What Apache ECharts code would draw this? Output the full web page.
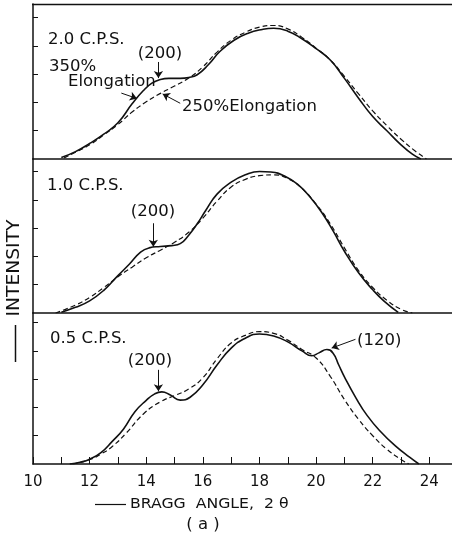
<!DOCTYPE html>
<html>
<head>
<meta charset="utf-8">
<script src="https://cdn.jsdelivr.net/npm/echarts@6/dist/echarts.min.js"></script>
<style>
  html, body { margin: 0; padding: 0; background: #fff; }
  #chart { width: 452px; height: 540px; }
</style>
</head>
<body>
<div id="chart"></div>
<script>
// 2.0 C.P.S. panel
const p1SolidX = [11.0, 11.5, 12.0, 12.5, 13.0, 13.5, 13.9, 14.2, 14.5, 14.8, 15.2, 15.5, 15.8, 16.2, 16.6, 17.1, 17.6, 18.1, 18.5, 19.0, 19.5, 20.0, 20.5, 21.0, 21.5, 22.0, 22.5, 23.0, 23.4, 23.7];
const p1SolidY = [0.05, 0.26, 0.55, 0.88, 1.28, 1.95, 2.42, 2.68, 2.81, 2.85, 2.85, 2.88, 2.98, 3.34, 3.8, 4.2, 4.45, 4.58, 4.62, 4.52, 4.25, 3.9, 3.5, 2.85, 2.15, 1.5, 1.0, 0.5, 0.17, 0.0];
const p1DashX = [11.1, 11.5, 12.0, 12.5, 13.0, 13.5, 14.0, 14.5, 15.0, 15.5, 16.0, 16.5, 17.0, 17.5, 18.0, 18.5, 19.0, 19.5, 20.0, 20.5, 21.0, 21.5, 22.0, 22.5, 23.0, 23.5, 23.9];
const p1DashY = [0.04, 0.24, 0.5, 0.85, 1.22, 1.66, 2.02, 2.32, 2.58, 2.86, 3.26, 3.78, 4.2, 4.48, 4.66, 4.72, 4.6, 4.3, 3.92, 3.5, 2.92, 2.3, 1.7, 1.18, 0.7, 0.28, 0.0];

// 1.0 C.P.S. panel
const p2SolidX = [11.0, 11.5, 12.0, 12.5, 13.0, 13.4, 13.8, 14.1, 14.5, 14.9, 15.2, 15.5, 15.8, 16.1, 16.5, 17.0, 17.5, 18.0, 18.4, 18.9, 19.4, 19.8, 20.2, 20.6, 21.0, 21.5, 22.0, 22.4, 22.9];
const p2SolidY = [0.03, 0.2, 0.43, 0.8, 1.32, 1.72, 2.15, 2.3, 2.35, 2.38, 2.45, 2.75, 3.15, 3.62, 4.2, 4.62, 4.88, 5.0, 4.98, 4.83, 4.5, 4.08, 3.55, 2.9, 2.18, 1.42, 0.82, 0.42, 0.02];
const p2DashX = [10.8, 11.5, 12.0, 12.5, 13.0, 13.5, 14.0, 14.5, 15.0, 15.5, 16.0, 16.5, 17.0, 17.5, 18.0, 18.5, 19.0, 19.5, 20.0, 20.5, 21.0, 21.5, 22.0, 22.5, 23.0, 23.4];
const p2DashY = [0.0, 0.28, 0.55, 0.9, 1.28, 1.62, 1.95, 2.22, 2.5, 2.85, 3.35, 3.95, 4.45, 4.72, 4.85, 4.88, 4.75, 4.4, 3.85, 3.15, 2.3, 1.5, 0.9, 0.45, 0.13, 0.0];

// 0.5 C.P.S. panel
const p3SolidX = [11.3, 11.7, 12.0, 12.4, 12.8, 13.2, 13.6, 14.0, 14.3, 14.55, 14.85, 15.2, 15.55, 16.0, 16.5, 17.0, 17.5, 18.0, 18.5, 19.0, 19.5, 19.85, 20.1, 20.38, 20.6, 20.8, 21.0, 21.4, 21.8, 22.3, 22.8, 23.3, 23.63];
const p3SolidY = [0.0, 0.07, 0.17, 0.4, 0.8, 1.24, 1.85, 2.25, 2.48, 2.55, 2.44, 2.26, 2.36, 2.8, 3.5, 4.1, 4.45, 4.6, 4.53, 4.32, 4.0, 3.83, 3.93, 4.05, 3.92, 3.5, 3.08, 2.35, 1.72, 1.12, 0.64, 0.24, 0.0];
const p3DashX = [11.4, 12.0, 12.4, 12.8, 13.3, 13.9, 14.5, 15.0, 15.5, 16.0, 16.5, 17.0, 17.5, 18.0, 18.5, 19.0, 19.5, 20.0, 20.5, 21.0, 21.5, 22.0, 22.5, 23.0, 23.27];
const p3DashY = [0.0, 0.15, 0.35, 0.62, 1.1, 1.77, 2.2, 2.42, 2.65, 3.05, 3.72, 4.28, 4.55, 4.68, 4.62, 4.38, 4.05, 3.75, 3.1, 2.28, 1.58, 1.0, 0.52, 0.16, 0.0];

// arrows: [x0, y0, x1, y1] in data units
const p1Arrows = [[14.43, 3.43, 14.43, 2.86], [13.12, 2.33, 13.67, 2.14], [15.2, 1.97, 14.58, 2.3]];
const p2Arrows = [[14.25, 3.17, 14.25, 2.34]];
const p3Arrows = [[14.43, 3.33, 14.43, 2.57], [21.39, 4.41, 20.55, 4.1]];

const xTickValues = [10, 11, 12, 13, 14, 15, 16, 17, 18, 19, 20, 21, 22, 23, 24];
const xLabelValues = [10, 12, 14, 16, 18, 20, 22, 24];

const ink = '#111';
const font = '"DejaVu Sans", sans-serif';

const chart = echarts.init(document.getElementById('chart'));

function pairs(xs, ys) {
    return xs.map((x, i) => [x, ys[i]]);
}

function arrowLines(list) {
    return {
        silent: true,
        symbol: ['none', 'arrow'],
        symbolSize: 7,
        label: {show: false},
        lineStyle: {color: ink, width: 1, type: 'solid'},
        data: list.map(a => [{coord: [a[0], a[1]]}, {coord: [a[2], a[3]]}])
    };
}

function line(idx, data, dashed, arrows) {
    return {
        type: 'line',
        xAxisIndex: idx,
        yAxisIndex: idx,
        data: data,
        showSymbol: false,
        smooth: 0.5,
        lineStyle: dashed ? {color: ink, width: 1.2, type: [5, 3]} : {color: ink, width: 1.6},
        markLine: arrows ? arrowLines(arrows) : undefined
    };
}

const grids = [
    {left: 33, right: 0, top: 4, height: 155},
    {left: 33, right: 0, top: 159, height: 154},
    {left: 33, right: 0, top: 313, height: 151}
];
const yMax = [5.48, 5.44, 5.34];

const xAxes = grids.map((g, i) => ({
    type: 'value',
    gridIndex: i,
    min: 10,
    max: 24.8,
    interval: 1,
    splitLine: {show: false},
    axisLine: {show: true, onZero: false, lineStyle: {color: ink, width: 1.5}},
    axisTick: {show: i === 2, inside: true, length: 7, customValues: xTickValues, lineStyle: {color: ink, width: 1}},
    axisLabel: {
        show: i === 2,
        margin: 11,
        color: ink,
        fontSize: 15,
        fontFamily: font,
        customValues: xLabelValues
    }
}));

const yAxes = grids.map((g, i) => ({
    type: 'value',
    gridIndex: i,
    min: 0,
    max: yMax[i],
    interval: 1,
    splitLine: {show: false},
    axisLine: {show: true, lineStyle: {color: ink, width: 1.5}},
    axisTick: {show: true, inside: true, length: 5, customValues: [1, 2, 3, 4, 5], lineStyle: {color: ink, width: 1}},
    axisLabel: {show: false}
}));

function txt(x, y, text, size, align, sx) {
    return {
        type: 'text', x: x, y: y, scaleX: sx || 1.1,
        style: {text: text, fill: ink, font: size + 'px ' + font, align: align || 'left', verticalAlign: 'middle'}
    };
}

const option = {
    animation: false,
    backgroundColor: '#fff',
    grid: grids,
    xAxis: xAxes,
    yAxis: yAxes,
    series: [
        line(0, pairs(p1SolidX, p1SolidY), false, p1Arrows),
        line(0, pairs(p1DashX, p1DashY), true),
        line(1, pairs(p2SolidX, p2SolidY), false, p2Arrows),
        line(1, pairs(p2DashX, p2DashY), true),
        line(2, pairs(p3SolidX, p3SolidY), false, p3Arrows),
        line(2, pairs(p3DashX, p3DashY), true)
    ],
    graphic: [
        {type: 'line', shape: {x1: 32, y1: 4.5, x2: 452, y2: 4.5}, style: {stroke: ink, lineWidth: 1.5}},
        txt(48, 40, '2.0 C.P.S.', 15),
        txt(160, 54, '(200)', 15, 'center'),
        txt(49, 67, '350%', 15),
        txt(68, 82, 'Elongation', 15),
        txt(182, 107, '250%Elongation', 15),
        txt(47, 186, '1.0 C.P.S.', 15),
        txt(153, 212, '(200)', 15, 'center'),
        txt(50, 339, '0.5 C.P.S.', 15),
        txt(150, 361, '(200)', 15, 'center'),
        txt(357, 341, '(120)', 15),
        {type: 'line', shape: {x1: 15.5, y1: 325, x2: 15.5, y2: 362}, style: {stroke: ink, lineWidth: 1.5}},
        {
            type: 'text', x: 15, y: 268, rotation: Math.PI / 2, scaleX: 1.1,
            style: {text: 'INTENSITY', fill: ink, font: '17px ' + font, align: 'center', verticalAlign: 'middle'}
        },
        {type: 'line', shape: {x1: 95, y1: 504.5, x2: 126, y2: 504.5}, style: {stroke: ink, lineWidth: 1.2}},
        txt(130, 504, 'BRAGG  ANGLE,  2 θ', 14, 'left', 1.12),
        txt(203, 525, '( a )', 15, 'center', 1.1)
    ]
};

chart.setOption(option);
</script>
</body>
</html>
